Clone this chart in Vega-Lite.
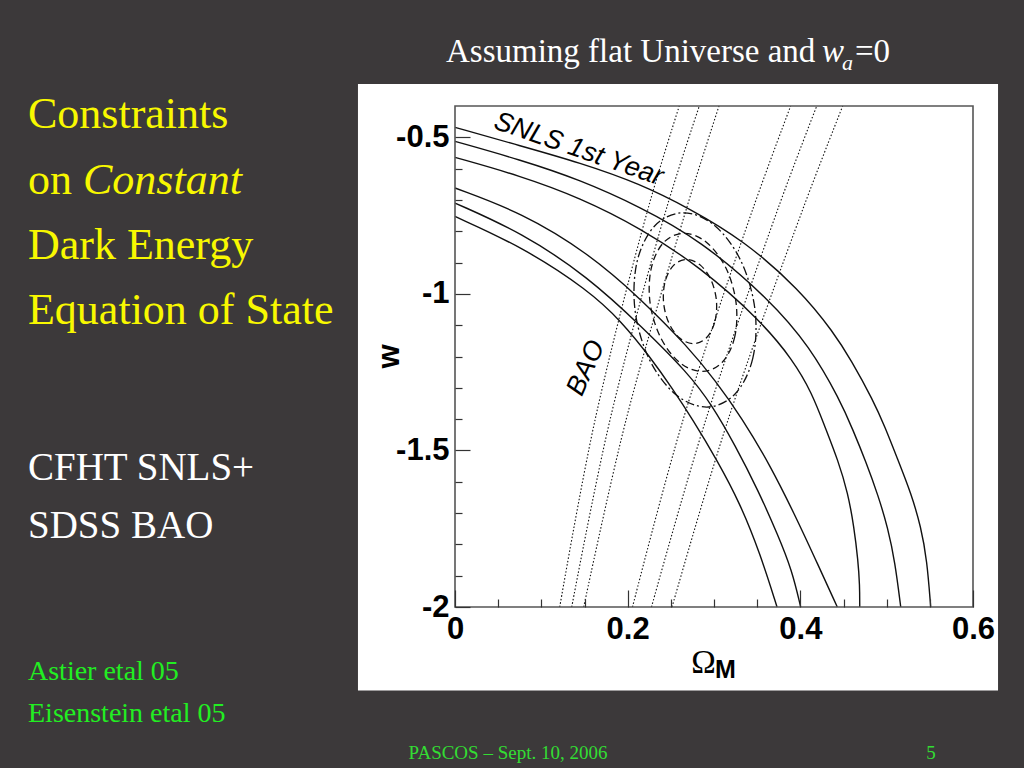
{
  "$schema": "https://vega.github.io/schema/vega-lite/v6.json",
  "width": 518,
  "height": 501,
  "autosize": "none",
  "padding": {"left": 455, "top": 106, "right": 51, "bottom": 161},
  "background": "#3c393a",
  "config": {"view": {"stroke": null}},
  "datasets": {
    "snls": [
      {"c":"U1","i":0,"om":0,"w":-0.4682},{"c":"U1","i":1,"om":0.0753,"w":-0.5267},{"c":"U1","i":2,"om":0.1448,"w":-0.581},{"c":"U1","i":3,"om":0.2143,"w":-0.6482},{"c":"U1","i":4,"om":0.2722,"w":-0.7282},{"c":"U1","i":5,"om":0.3336,"w":-0.8273},{"c":"U1","i":6,"om":0.3996,"w":-0.9872},{"c":"U1","i":7,"om":0.439,"w":-1.1247},{"c":"U1","i":8,"om":0.4587,"w":-1.2111},{"c":"U1","i":9,"om":0.4842,"w":-1.339},{"c":"U1","i":10,"om":0.4981,"w":-1.4253},{"c":"U1","i":11,"om":0.5131,"w":-1.5309},{"c":"U1","i":12,"om":0.5282,"w":-1.6364},{"c":"U1","i":13,"om":0.5398,"w":-1.7451},{"c":"U1","i":14,"om":0.5467,"w":-1.8507},{"c":"U1","i":15,"om":0.551,"w":-2.0},
      {"c":"U2","i":0,"om":0,"w":-0.513},{"c":"U2","i":1,"om":0.0753,"w":-0.5715},{"c":"U2","i":2,"om":0.1448,"w":-0.6354},{"c":"U2","i":3,"om":0.2143,"w":-0.7218},{"c":"U2","i":4,"om":0.2838,"w":-0.8273},{"c":"U2","i":5,"om":0.3649,"w":-1.0192},{"c":"U2","i":6,"om":0.4112,"w":-1.1695},{"c":"U2","i":7,"om":0.4459,"w":-1.339},{"c":"U2","i":8,"om":0.461,"w":-1.4349},{"c":"U2","i":9,"om":0.4761,"w":-1.5372},{"c":"U2","i":10,"om":0.49,"w":-1.6428},{"c":"U2","i":11,"om":0.5015,"w":-1.7483},{"c":"U2","i":12,"om":0.5097,"w":-1.857},{"c":"U2","i":13,"om":0.5163,"w":-2.0},
      {"c":"U3","i":0,"om":0,"w":-0.5641},{"c":"U3","i":1,"om":0.0753,"w":-0.6226},{"c":"U3","i":2,"om":0.1448,"w":-0.693},{"c":"U3","i":3,"om":0.2143,"w":-0.7889},{"c":"U3","i":4,"om":0.2838,"w":-0.9136},{"c":"U3","i":5,"om":0.3533,"w":-1.0831},{"c":"U3","i":6,"om":0.3915,"w":-1.2111},{"c":"U3","i":7,"om":0.4135,"w":-1.3166},{"c":"U3","i":8,"om":0.4286,"w":-1.4253},{"c":"U3","i":9,"om":0.4436,"w":-1.5309},{"c":"U3","i":10,"om":0.4552,"w":-1.6364},{"c":"U3","i":11,"om":0.4622,"w":-1.7451},{"c":"U3","i":12,"om":0.4668,"w":-1.8507},{"c":"U3","i":13,"om":0.4688,"w":-1.9306},{"c":"U3","i":14,"om":0.4688,"w":-2.0},
      {"c":"L1","i":0,"om":0,"w":-0.6619},{"c":"L1","i":1,"om":0.0776,"w":-0.741},{"c":"L1","i":2,"om":0.1541,"w":-0.8689},{"c":"L1","i":3,"om":0.2166,"w":-1.0192},{"c":"L1","i":4,"om":0.2699,"w":-1.1695},{"c":"L1","i":5,"om":0.3012,"w":-1.275},{"c":"L1","i":6,"om":0.3324,"w":-1.3965},{"c":"L1","i":7,"om":0.3649,"w":-1.5468},{"c":"L1","i":8,"om":0.3938,"w":-1.7067},{"c":"L1","i":9,"om":0.417,"w":-1.8443},{"c":"L1","i":10,"om":0.4428,"w":-2.0},
      {"c":"L2","i":0,"om":0,"w":-0.7099},{"c":"L2","i":1,"om":0.0776,"w":-0.8049},{"c":"L2","i":2,"om":0.1541,"w":-0.9456},{"c":"L2","i":3,"om":0.2166,"w":-1.1055},{"c":"L2","i":4,"om":0.2699,"w":-1.2526},{"c":"L2","i":5,"om":0.2977,"w":-1.355},{"c":"L2","i":6,"om":0.3243,"w":-1.4829},{"c":"L2","i":7,"om":0.351,"w":-1.6268},{"c":"L2","i":8,"om":0.3741,"w":-1.7707},{"c":"L2","i":9,"om":0.3903,"w":-1.8826},{"c":"L2","i":10,"om":0.4004,"w":-2.0},
      {"c":"L3","i":0,"om":0,"w":-0.7528},{"c":"L3","i":1,"om":0.0776,"w":-0.8497},{"c":"L3","i":2,"om":0.1541,"w":-0.9872},{"c":"L3","i":3,"om":0.1934,"w":-1.0895},{"c":"L3","i":4,"om":0.2259,"w":-1.2015},{"c":"L3","i":5,"om":0.2514,"w":-1.3006},{"c":"L3","i":6,"om":0.2757,"w":-1.4029},{"c":"L3","i":7,"om":0.3035,"w":-1.5309},{"c":"L3","i":8,"om":0.3301,"w":-1.6684},{"c":"L3","i":9,"om":0.3533,"w":-1.8283},{"c":"L3","i":10,"om":0.373,"w":-2.0}
    ],
    "bao": [
      {"c":"B1","i":0,"om":0.1213,"w":-2.0},{"c":"B1","i":1,"om":0.1622,"w":-1.4029},{"c":"B1","i":2,"om":0.2239,"w":-0.725},{"c":"B1","i":3,"om":0.2598,"w":-0.4},
      {"c":"B2","i":0,"om":0.1352,"w":-2.0},{"c":"B2","i":1,"om":0.1795,"w":-1.4029},{"c":"B2","i":2,"om":0.2452,"w":-0.725},{"c":"B2","i":3,"om":0.283,"w":-0.4},
      {"c":"B3","i":0,"om":0.1491,"w":-2.0},{"c":"B3","i":1,"om":0.1981,"w":-1.4029},{"c":"B3","i":2,"om":0.2684,"w":-0.725},{"c":"B3","i":3,"om":0.3058,"w":-0.4},
      {"c":"B4","i":0,"om":0.2056,"w":-2.0},{"c":"B4","i":1,"om":0.2641,"w":-1.4029},{"c":"B4","i":2,"om":0.3455,"w":-0.725},{"c":"B4","i":3,"om":0.3888,"w":-0.4},
      {"c":"B5","i":0,"om":0.2276,"w":-2.0},{"c":"B5","i":1,"om":0.2904,"w":-1.4029},{"c":"B5","i":2,"om":0.3745,"w":-0.725},{"c":"B5","i":3,"om":0.419,"w":-0.4},
      {"c":"B6","i":0,"om":0.2514,"w":-2.0},{"c":"B6","i":1,"om":0.3162,"w":-1.4029},{"c":"B6","i":2,"om":0.4035,"w":-0.725},{"c":"B6","i":3,"om":0.4491,"w":-0.4}
    ],
    "joint": [
      {"c":"outer","i":0,"om":0.3475,"w":-1.0512},{"c":"outer","i":1,"om":0.3449,"w":-1.2063},{"c":"outer","i":2,"om":0.3244,"w":-1.3198},{"c":"outer","i":3,"om":0.2914,"w":-1.3614},{"c":"outer","i":4,"om":0.2549,"w":-1.3198},{"c":"outer","i":5,"om":0.2246,"w":-1.2063},{"c":"outer","i":6,"om":0.2085,"w":-1.0512},{"c":"outer","i":7,"om":0.211,"w":-0.8961},{"c":"outer","i":8,"om":0.2315,"w":-0.7825},{"c":"outer","i":9,"om":0.2646,"w":-0.741},{"c":"outer","i":10,"om":0.301,"w":-0.7825},{"c":"outer","i":11,"om":0.3314,"w":-0.8961},
      {"c":"middle","i":0,"om":0.3255,"w":-1.0272},{"c":"middle","i":1,"om":0.324,"w":-1.1375},{"c":"middle","i":2,"om":0.3096,"w":-1.2184},{"c":"middle","i":3,"om":0.2861,"w":-1.2478},{"c":"middle","i":4,"om":0.2598,"w":-1.2184},{"c":"middle","i":5,"om":0.2378,"w":-1.1375},{"c":"middle","i":6,"om":0.2259,"w":-1.0272},{"c":"middle","i":7,"om":0.2274,"w":-0.9168},{"c":"middle","i":8,"om":0.2417,"w":-0.8359},{"c":"middle","i":9,"om":0.2653,"w":-0.8065},{"c":"middle","i":10,"om":0.2915,"w":-0.8359},{"c":"middle","i":11,"om":0.3137,"w":-0.9168},
      {"c":"inner","i":0,"om":0.3029,"w":-1.0246},{"c":"inner","i":1,"om":0.3007,"w":-1.0918},{"c":"inner","i":2,"om":0.291,"w":-1.141},{"c":"inner","i":3,"om":0.2761,"w":-1.1589},{"c":"inner","i":4,"om":0.2603,"w":-1.141},{"c":"inner","i":5,"om":0.2475,"w":-1.0918},{"c":"inner","i":6,"om":0.2415,"w":-1.0246},{"c":"inner","i":7,"om":0.2437,"w":-0.9575},{"c":"inner","i":8,"om":0.2534,"w":-0.9082},{"c":"inner","i":9,"om":0.2683,"w":-0.8903},{"c":"inner","i":10,"om":0.2842,"w":-0.9082},{"c":"inner","i":11,"om":0.2969,"w":-0.9575}
    ]
  },
  "layer": [
    {
      "data": {"values": [{}]},
      "mark": {"type": "rect", "fill": "#ffffff"},
      "encoding": {
        "x": {"datum": -0.1124, "type": "quantitative", "scale": {"domain": [0, 0.6], "nice": false, "zero": false}, "axis": null},
        "x2": {"datum": 0.629},
        "y": {"datum": -0.3296, "type": "quantitative", "scale": {"domain": [-2, -0.4], "nice": false, "zero": false}, "axis": null},
        "y2": {"datum": -2.2664}
      }
    },
    {
      "data": {"name": "snls"},
      "mark": {"type": "line", "interpolate": "basis", "color": "#111111", "strokeWidth": 1.4},
      "encoding": {
        "x": {"field": "om", "type": "quantitative", "scale": {"domain": [0, 0.6], "nice": false, "zero": false},
          "axis": {"orient": "bottom", "values": [0, 0.2, 0.4, 0.6], "zindex": 1, "domain": false, "grid": false,
            "tickSize": -17, "tickColor": "#333333", "tickWidth": 1.2,
            "labelExpr": "'' + datum.value", "labelFont": "Liberation Sans", "labelFontWeight": "bold", "labelFontSize": 31, "labelColor": "#000000",
            "labelBaseline": "alphabetic", "labelPadding": 48, "labelFlush": false, "labelOverlap": false,
            "title": "Ω", "titleFont": "Liberation Serif", "titleFontSize": 33, "titleFontWeight": "normal", "titleColor": "#000000",
            "titleX": 248, "titleY": 65, "titleBaseline": "alphabetic", "titleAlign": "center"}},
        "y": {"field": "w", "type": "quantitative", "scale": {"domain": [-2, -0.4], "nice": false, "zero": false},
          "axis": {"orient": "left", "values": [-2, -1.5, -1, -0.5], "zindex": 1, "domain": false, "grid": false,
            "tickSize": -15, "tickColor": "#333333", "tickWidth": 1.2,
            "labelExpr": "'' + datum.value", "labelFont": "Liberation Sans", "labelFontWeight": "bold", "labelFontSize": 31, "labelColor": "#000000",
            "labelPadding": 21, "labelFlush": false, "labelOverlap": false,
            "title": "w", "titleFont": "Liberation Sans", "titleFontSize": 31, "titleFontWeight": "bold", "titleColor": "#000000",
            "titleX": -57, "titleY": 250, "titleAngle": 270, "titleBaseline": "alphabetic", "titleAlign": "center"}},
        "detail": {"field": "c", "type": "nominal"},
        "order": {"field": "i", "type": "quantitative"}
      }
    },
    {
      "data": {"name": "bao"},
      "mark": {"type": "line", "interpolate": "catmull-rom", "color": "#111111", "strokeWidth": 1.1, "strokeDash": [1.5, 2]},
      "encoding": {
        "x": {"field": "om", "type": "quantitative",
          "axis": {"orient": "bottom", "values": [0.05, 0.1, 0.15, 0.25, 0.3, 0.35, 0.45, 0.5, 0.55], "zindex": 1, "domain": false, "grid": false,
            "tickSize": -8, "tickColor": "#333333", "tickWidth": 1.2, "labels": false, "title": null}},
        "y": {"field": "w", "type": "quantitative",
          "axis": {"orient": "left", "values": [-1.9, -1.8, -1.7, -1.6, -1.4, -1.3, -1.2, -1.1, -0.9, -0.8, -0.7, -0.6], "zindex": 1, "domain": false, "grid": false,
            "tickSize": -7, "tickColor": "#333333", "tickWidth": 1.2, "labels": false, "title": null}},
        "detail": {"field": "c", "type": "nominal"},
        "order": {"field": "i", "type": "quantitative"}
      }
    },
    {
      "data": {"name": "joint"},
      "mark": {"type": "line", "interpolate": "cardinal-closed", "color": "#111111", "strokeWidth": 1.3},
      "encoding": {
        "x": {"field": "om", "type": "quantitative", "axis": null},
        "y": {"field": "w", "type": "quantitative", "axis": null},
        "detail": {"field": "c", "type": "nominal"},
        "order": {"field": "i", "type": "quantitative"},
        "strokeDash": {"field": "c", "type": "nominal", "scale": {"domain": ["inner", "middle", "outer"], "range": [[7, 4], [7, 4], [9, 3, 2, 3]]}, "legend": null}
      }
    },
    {
      "data": {"values": [{}]},
      "mark": {"type": "rect", "fill": null, "fillOpacity": 0, "stroke": "#555555", "strokeWidth": 1.6},
      "encoding": {
        "x": {"datum": 0, "type": "quantitative", "axis": null},
        "x2": {"datum": 0.6},
        "y": {"datum": -2, "type": "quantitative", "axis": null},
        "y2": {"datum": -0.4}
      }
    },
    {
      "data": {"values": [{"t": "SNLS 1st Year", "x": 0.1402, "y": -0.5619}]},
      "mark": {"type": "text", "font": "Liberation Sans", "fontStyle": "italic", "fontSize": 27, "color": "#000000", "align": "center", "baseline": "alphabetic", "angle": 19},
      "encoding": {"x": {"field": "x", "type": "quantitative", "axis": null}, "y": {"field": "y", "type": "quantitative", "axis": null}, "text": {"field": "t"}}
    },
    {
      "data": {"values": [{"t": "BAO", "x": 0.1518, "y": -1.2366}]},
      "mark": {"type": "text", "font": "Liberation Sans", "fontStyle": "italic", "fontSize": 27, "color": "#000000", "align": "center", "baseline": "middle", "angle": -66},
      "encoding": {"x": {"field": "x", "type": "quantitative", "axis": null}, "y": {"field": "y", "type": "quantitative", "axis": null}, "text": {"field": "t"}}
    },
    {
      "data": {"values": [{"t": "M", "x": 0.3133, "y": -2.228}]},
      "mark": {"type": "text", "font": "Liberation Sans", "fontWeight": "bold", "fontSize": 25, "color": "#000000", "align": "center", "baseline": "alphabetic"},
      "encoding": {"x": {"field": "x", "type": "quantitative", "axis": null}, "y": {"field": "y", "type": "quantitative", "axis": null}, "text": {"field": "t"}}
    },
    {
      "data": {"values": [
        {"t": "Constraints", "x": -0.4946, "y": -0.4691},
        {"t": "on", "x": -0.4946, "y": -0.6802},
        {"t": "Dark Energy", "x": -0.4946, "y": -0.8881},
        {"t": "Equation of State", "x": -0.4946, "y": -1.0959}
      ]},
      "mark": {"type": "text", "font": "Liberation Serif", "fontSize": 44, "color": "#f8f800", "align": "left", "baseline": "alphabetic"},
      "encoding": {"x": {"field": "x", "type": "quantitative", "axis": null}, "y": {"field": "y", "type": "quantitative", "axis": null}, "text": {"field": "t"}}
    },
    {
      "data": {"values": [{"t": "Constant", "x": -0.4309, "y": -0.6802}]},
      "mark": {"type": "text", "font": "Liberation Serif", "fontStyle": "italic", "fontSize": 44, "color": "#f8f800", "align": "left", "baseline": "alphabetic"},
      "encoding": {"x": {"field": "x", "type": "quantitative", "axis": null}, "y": {"field": "y", "type": "quantitative", "axis": null}, "text": {"field": "t"}}
    },
    {
      "data": {"values": [
        {"t": "CFHT SNLS+", "x": -0.4946, "y": -1.5948},
        {"t": "SDSS BAO", "x": -0.4946, "y": -1.7803}
      ]},
      "mark": {"type": "text", "font": "Liberation Serif", "fontSize": 39, "color": "#ffffff", "align": "left", "baseline": "alphabetic"},
      "encoding": {"x": {"field": "x", "type": "quantitative", "axis": null}, "y": {"field": "y", "type": "quantitative", "axis": null}, "text": {"field": "t"}}
    },
    {
      "data": {"values": [
        {"t": "Astier etal 05", "x": -0.4946, "y": -2.2344},
        {"t": "Eisenstein etal 05", "x": -0.4946, "y": -2.3687}
      ]},
      "mark": {"type": "text", "font": "Liberation Serif", "fontSize": 28, "color": "#22ee22", "align": "left", "baseline": "alphabetic"},
      "encoding": {"x": {"field": "x", "type": "quantitative", "axis": null}, "y": {"field": "y", "type": "quantitative", "axis": null}, "text": {"field": "t"}}
    },
    {
      "data": {"values": [
        {"t": "PASCOS – Sept. 10, 2006", "x": 0.0614, "y": -2.4839},
        {"t": "5", "x": 0.5514, "y": -2.4839}
      ]},
      "mark": {"type": "text", "font": "Liberation Serif", "fontSize": 19, "color": "#33dd33", "align": "center", "baseline": "alphabetic"},
      "encoding": {"x": {"field": "x", "type": "quantitative", "axis": null}, "y": {"field": "y", "type": "quantitative", "axis": null}, "text": {"field": "t"}}
    },
    {
      "data": {"values": [
        {"t": "Assuming flat Universe and", "x": -0.0104, "y": -0.258},
        {"t": "=0", "x": 0.4633, "y": -0.258}
      ]},
      "mark": {"type": "text", "font": "Liberation Serif", "fontSize": 33, "color": "#ffffff", "align": "left", "baseline": "alphabetic"},
      "encoding": {"x": {"field": "x", "type": "quantitative", "axis": null}, "y": {"field": "y", "type": "quantitative", "axis": null}, "text": {"field": "t"}}
    },
    {
      "data": {"values": [{"t": "w", "x": 0.4251, "y": -0.258}]},
      "mark": {"type": "text", "font": "Liberation Serif", "fontStyle": "italic", "fontSize": 33, "color": "#ffffff", "align": "left", "baseline": "alphabetic"},
      "encoding": {"x": {"field": "x", "type": "quantitative", "axis": null}, "y": {"field": "y", "type": "quantitative", "axis": null}, "text": {"field": "t"}}
    },
    {
      "data": {"values": [{"t": "a", "x": 0.4483, "y": -0.2836}]},
      "mark": {"type": "text", "font": "Liberation Serif", "fontStyle": "italic", "fontSize": 22, "color": "#ffffff", "align": "left", "baseline": "alphabetic"},
      "encoding": {"x": {"field": "x", "type": "quantitative", "axis": null}, "y": {"field": "y", "type": "quantitative", "axis": null}, "text": {"field": "t"}}
    }
  ],
  "resolve": {"axis": {"x": "independent", "y": "independent"}}
}
